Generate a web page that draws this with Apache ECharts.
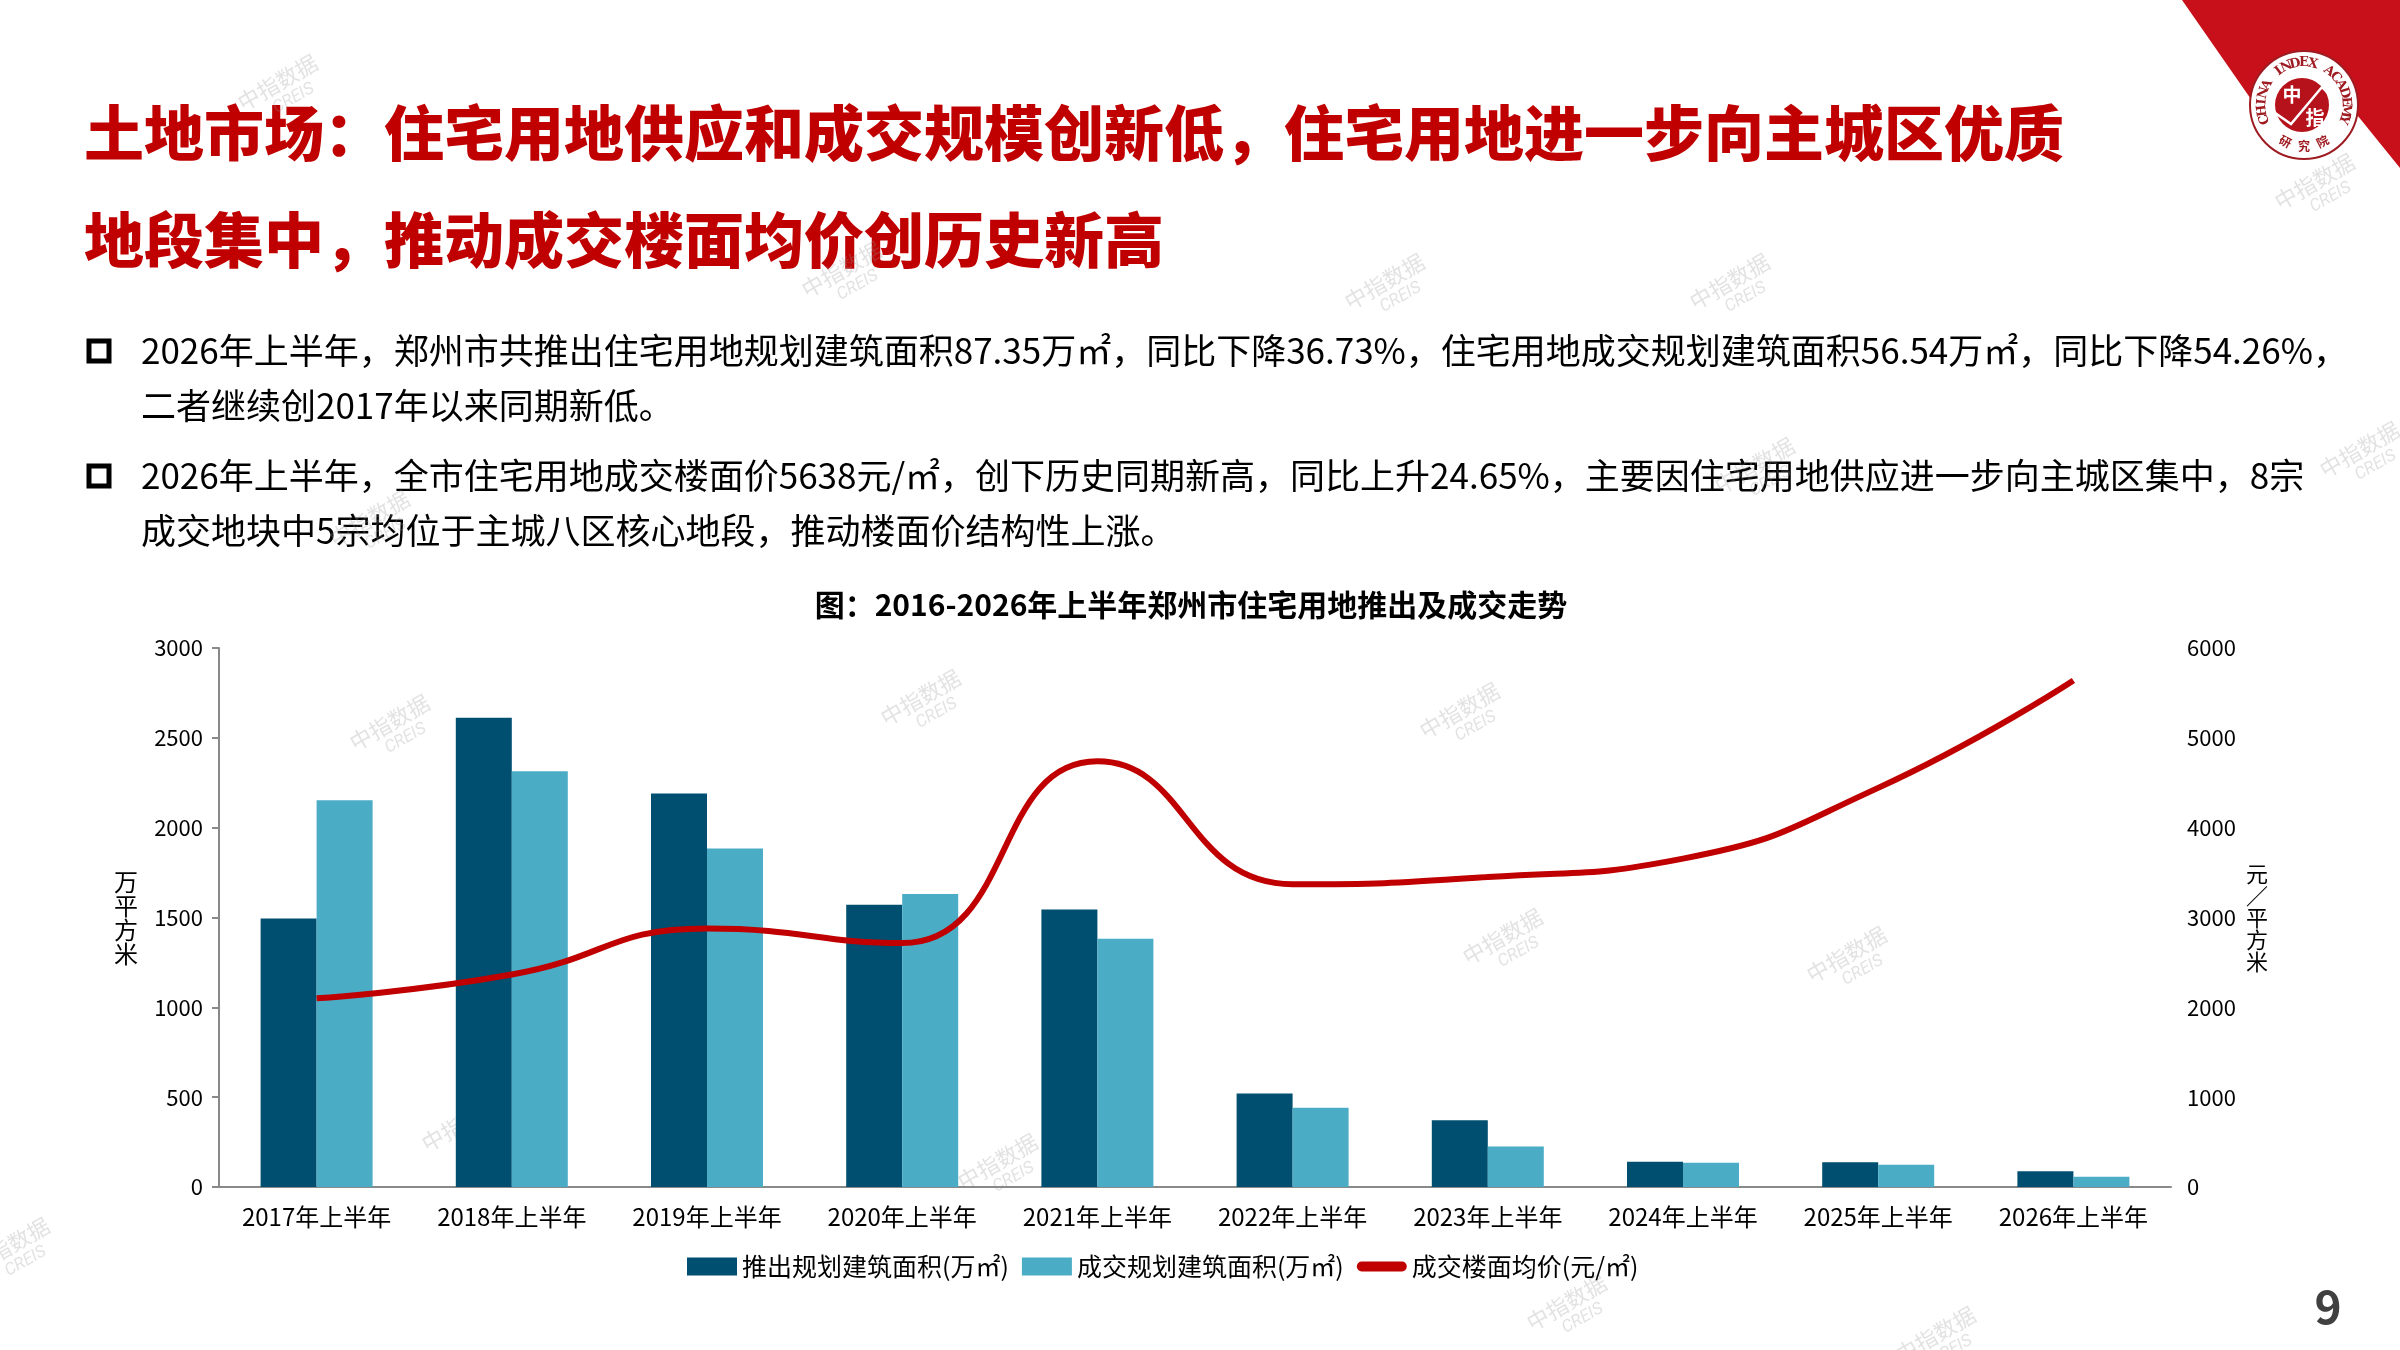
<!DOCTYPE html>
<html>
<head>
    <meta charset="utf-8">
    <title>郑州市住宅用地推出及成交走势</title>
    <script src="https://cdn.jsdelivr.net/npm/echarts@6/dist/echarts.min.js"></script>
    <style>
        html, body {
            margin: 0;
            padding: 0;
            background: #fff;
        }

        #main {
            width: 2400px;
            height: 1350px;
        }
    </style>
</head>
<body>
    <div id="main"></div>
    <script>
        // 横轴类别
        var categories = ['2017年上半年', '2018年上半年', '2019年上半年', '2020年上半年', '2021年上半年',
            '2022年上半年', '2023年上半年', '2024年上半年', '2025年上半年', '2026年上半年'];
        // 推出规划建筑面积（万㎡）
        var launchedArea = [1495, 2612, 2190, 1571, 1544, 520, 371, 141, 138, 87.35];
        // 成交规划建筑面积（万㎡）
        var tradedArea = [2153, 2314, 1884, 1631, 1382, 441, 225, 135, 124, 56.54];
        // 成交楼面均价（元/㎡）
        var avgPrice = [2100, 2365, 2878, 2715, 4738, 3370, 3450, 3655, 4443, 5638];

        var seriesNames = ['推出规划建筑面积(万㎡)', '成交规划建筑面积(万㎡)', '成交楼面均价(元/㎡)'];

        var titleLines = ['土地市场：住宅用地供应和成交规模创新低，住宅用地进一步向主城区优质',
            '地段集中，推动成交楼面均价创历史新高'];
        var bulletLines = [
            ['2026年上半年，郑州市共推出住宅用地规划建筑面积87.35万㎡，同比下降36.73%，住宅用地成交规划建筑面积56.54万㎡，同比下降54.26%，',
                '二者继续创2017年以来同期新低。'],
            ['2026年上半年，全市住宅用地成交楼面价5638元/㎡，创下历史同期新高，同比上升24.65%，主要因住宅用地供应进一步向主城区集中，8宗',
                '成交地块中5宗均位于主城八区核心地段，推动楼面价结构性上涨。']
        ];
        var chartTitle = '图：2016-2026年上半年郑州市住宅用地推出及成交走势';

        var FONT = '"Noto Sans CJK SC", "Noto Sans", sans-serif';
        var RED = '#C00000';

        var graphics = [];

        // 页面标题
        titleLines.forEach(function (t, i) {
            graphics.push({
                type: 'text', x: 84, y: 133 + i * 107,
                style: { text: t, fill: RED, font: '900 60px ' + FONT, verticalAlign: 'middle' }
            });
        });

        // 正文要点
        bulletLines.forEach(function (lines, i) {
            var y0 = 351 + i * 125;
            graphics.push({
                type: 'rect', shape: { x: 89, y: y0 - 10, width: 20, height: 20 },
                style: { fill: '#fff', stroke: '#000', lineWidth: 5 }
            });
            lines.forEach(function (t, j) {
                graphics.push({
                    type: 'text', x: 141, y: y0 + j * 55,
                    style: { text: t, fill: '#000', font: '35px ' + FONT, verticalAlign: 'middle' }
                });
            });
        });

        // 图表标题
        graphics.push({
            type: 'text', x: 1191, y: 605,
            style: { text: chartTitle, fill: '#000', font: 'bold 30px ' + FONT, align: 'center', verticalAlign: 'middle' }
        });

        // 页码
        graphics.push({
            type: 'text', x: 2328, y: 1307,
            style: { text: '9', fill: '#404040', font: 'bold 46px ' + FONT, align: 'center', verticalAlign: 'middle' }
        });

        // 右上角红色色块
        graphics.push({
            type: 'polygon',
            shape: { points: [[2182, 0], [2400, 0], [2400, 168], [2345, 100], [2262, 115]] },
            style: { fill: '#C8101A' }
        });

        // 中指研究院标志
        var cx = 2304, cy = 105;
        var logo = [];
        logo.push({ type: 'circle', shape: { cx: cx, cy: cy, r: 54 }, style: { fill: '#fff', stroke: '#9E1B22', lineWidth: 2 } });
        logo.push({ type: 'circle', shape: { cx: cx - 2, cy: cy, r: 27 }, style: { fill: '#B5121B' } });
        logo.push({
            type: 'polyline',
            shape: { points: [[2268, 108], [2291, 124], [2322, 87], [2336, 101]] },
            style: { stroke: '#fff', lineWidth: 2.5, fill: null }
        });
        logo.push({ type: 'text', x: 2292, y: 95, style: { text: '中', fill: '#fff', font: 'bold 19px ' + FONT, align: 'center', verticalAlign: 'middle' } });
        logo.push({ type: 'text', x: 2315, y: 118, style: { text: '指', fill: '#fff', font: 'bold 19px ' + FONT, align: 'center', verticalAlign: 'middle' } });
        var arcText = 'CHINA INDEX ACADEMY';
        var a0 = 200, a1 = -20;
        for (var k = 0; k < arcText.length; k++) {
            var a = a0 + (a1 - a0) * k / (arcText.length - 1);
            var rad = a * Math.PI / 180;
            logo.push({
                type: 'text', x: cx + 42 * Math.cos(rad), y: cy - 42 * Math.sin(rad),
                rotation: (a - 90) * Math.PI / 180,
                style: { text: arcText[k], fill: '#9E1B22', font: 'bold 13px "DejaVu Serif", serif', align: 'center', verticalAlign: 'middle' }
            });
        }
        ['研', '究', '院'].forEach(function (ch, i) {
            var a = 243 + i * 27;
            var rad = a * Math.PI / 180;
            logo.push({
                type: 'text', x: cx + 41 * Math.cos(rad), y: cy - 41 * Math.sin(rad),
                rotation: (a - 270) * Math.PI / 180,
                style: { text: ch, fill: '#9E1B22', font: 'bold 12px ' + FONT, align: 'center', verticalAlign: 'middle' }
            });
        });
        graphics.push({ type: 'group', children: logo });

        // 水印
        var marks = [[283, 92], [2320, 191], [847, 279], [1390, 291], [1735, 291], [2365, 459], [1760, 475],
            [375, 528], [395, 732], [926, 707], [1465, 720], [1508, 946], [1852, 964], [467, 1133],
            [1003, 1171], [1572, 1312], [15, 1255], [1941, 1344]];
        marks.forEach(function (p) {
            graphics.push({
                type: 'group', x: p[0], y: p[1], rotation: Math.PI / 6, z: 100,
                children: [
                    { type: 'text', x: 0, y: -11, style: { text: '中指数据', fill: 'rgba(150,150,150,0.28)', font: '22px ' + FONT, align: 'center', verticalAlign: 'middle' } },
                    { type: 'text', x: 6, y: 11, style: { text: 'CREIS', fill: 'rgba(150,150,150,0.28)', font: 'italic 17px Roboto, sans-serif', align: 'center', verticalAlign: 'middle' } }
                ]
            });
        });

        var chart = echarts.init(document.getElementById('main'));

        var plainNum = function (v) { return String(v); };

        var option = {
            backgroundColor: '#fff',
            animation: false,
            textStyle: { fontFamily: FONT },
            grid: { left: 219, right: 229, top: 648, bottom: 163, containLabel: false },
            legend: {
                left: 682, top: 1249,
                itemWidth: 50, itemHeight: 18, itemGap: 13,
                textStyle: { fontSize: 25, color: '#000', fontFamily: FONT },
                data: [
                    { name: seriesNames[0], icon: 'rect' },
                    { name: seriesNames[1], icon: 'rect' },
                    { name: seriesNames[2], icon: 'path://M4,0 L37,0 A4,4 0 0 1 37,8 L4,8 A4,4 0 0 1 4,0 Z' }
                ]
            },
            xAxis: {
                type: 'category',
                data: categories,
                axisLine: { lineStyle: { color: '#898989', width: 2 } },
                axisTick: { length: 9, lineStyle: { color: '#898989', width: 2 } },
                axisLabel: { fontSize: 24, color: '#000', margin: 18 }
            },
            yAxis: [{
                type: 'value', min: 0, max: 3000, interval: 500,
                name: '万\n平\n方\n米', nameLocation: 'middle', nameRotate: 0, nameGap: 81,
                nameTextStyle: { fontSize: 24, color: '#000', lineHeight: 24 },
                axisLine: { show: true, lineStyle: { color: '#898989', width: 2 } },
                axisTick: { show: true, length: 7, lineStyle: { color: '#898989', width: 2 } },
                axisLabel: { fontSize: 22, color: '#000', margin: 16, formatter: plainNum },
                splitLine: { show: false }
            }, {
                type: 'value', min: 0, max: 6000, interval: 1000,
                name: '元\n／\n平\n方\n米', nameLocation: 'middle', nameRotate: 0, nameGap: 75,
                nameTextStyle: { fontSize: 22, color: '#000', lineHeight: 22 },
                axisLine: { show: false },
                axisTick: { show: false },
                axisLabel: { fontSize: 22, color: '#000', margin: 16, formatter: plainNum },
                splitLine: { show: false }
            }],
            series: [{
                name: seriesNames[0], type: 'bar', data: launchedArea,
                barWidth: 56, barGap: '0%',
                itemStyle: { color: '#004F70' }
            }, {
                name: seriesNames[1], type: 'bar', data: tradedArea,
                barWidth: 56, barGap: '0%',
                itemStyle: { color: '#4BACC6' }
            }, {
                name: seriesNames[2], type: 'line', yAxisIndex: 1, data: avgPrice,
                smooth: 0.5, symbol: 'none', z: 5,
                lineStyle: { color: RED, width: 6 },
                itemStyle: { color: RED }
            }],
            graphic: graphics
        };

        chart.setOption(option);
    </script>
</body>
</html>
